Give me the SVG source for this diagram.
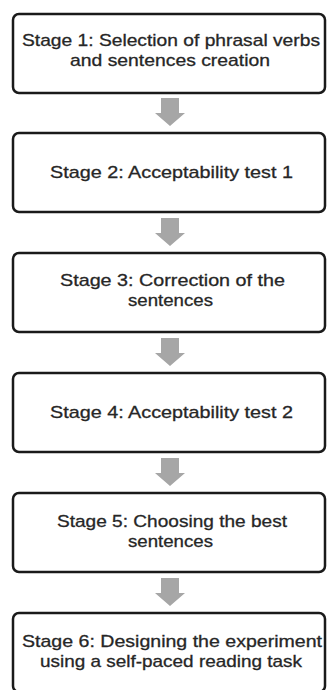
<svg xmlns="http://www.w3.org/2000/svg" width="327" height="690" viewBox="0 0 327 690">
<defs>
<style>
.box{fill:#fff;stroke:#1a1a1a;stroke-width:2.5}
.t{font-family:"Liberation Sans",Arial,sans-serif;font-size:17px;fill:#262626;stroke:#262626;stroke-width:0.3;text-anchor:middle}
.arr{fill:#a6a6a6}
</style>
<path id="arrow" d="M-9,0 H9 V15 H15 L0,28 L-15,15 H-9 Z"/>
</defs>
<rect width="327" height="690" fill="#fff"/>
<g id="connectors">
<use href="#arrow" class="arr" x="170" y="98"/>
<use href="#arrow" class="arr" x="170" y="218"/>
<use href="#arrow" class="arr" x="170" y="338"/>
<use href="#arrow" class="arr" x="170" y="458"/>
<use href="#arrow" class="arr" x="170" y="578"/>
</g>
<g id="stage1">
<rect class="box" x="13" y="14" width="312" height="79" rx="6"/>
<text class="t" x="171" y="46" textLength="298" lengthAdjust="spacingAndGlyphs">Stage 1: Selection of phrasal verbs</text>
<text class="t" x="170" y="66" textLength="200" lengthAdjust="spacingAndGlyphs">and sentences creation</text>
</g>
<g id="stage2">
<rect class="box" x="13" y="133" width="312" height="79" rx="6"/>
<text class="t" x="171.5" y="178" textLength="243" lengthAdjust="spacingAndGlyphs">Stage 2: Acceptability test 1</text>
</g>
<g id="stage3">
<rect class="box" x="13" y="253" width="312" height="79" rx="6"/>
<text class="t" x="172.5" y="286" textLength="225" lengthAdjust="spacingAndGlyphs">Stage 3: Correction of the</text>
<text class="t" x="170.5" y="306" textLength="85" lengthAdjust="spacingAndGlyphs">sentences</text>
</g>
<g id="stage4">
<rect class="box" x="13" y="373" width="312" height="79" rx="6"/>
<text class="t" x="171.5" y="418" textLength="243" lengthAdjust="spacingAndGlyphs">Stage 4: Acceptability test 2</text>
</g>
<g id="stage5">
<rect class="box" x="13" y="493" width="312" height="79" rx="6"/>
<text class="t" x="172" y="527" textLength="230" lengthAdjust="spacingAndGlyphs">Stage 5: Choosing the best</text>
<text class="t" x="170.5" y="547" textLength="85" lengthAdjust="spacingAndGlyphs">sentences</text>
</g>
<g id="stage6">
<rect class="box" x="13" y="613" width="312" height="79" rx="6"/>
<text class="t" x="172" y="647" textLength="300" lengthAdjust="spacingAndGlyphs">Stage 6: Designing the experiment</text>
<text class="t" x="171" y="667" textLength="262" lengthAdjust="spacingAndGlyphs">using a self-paced reading task</text>
</g>
</svg>
